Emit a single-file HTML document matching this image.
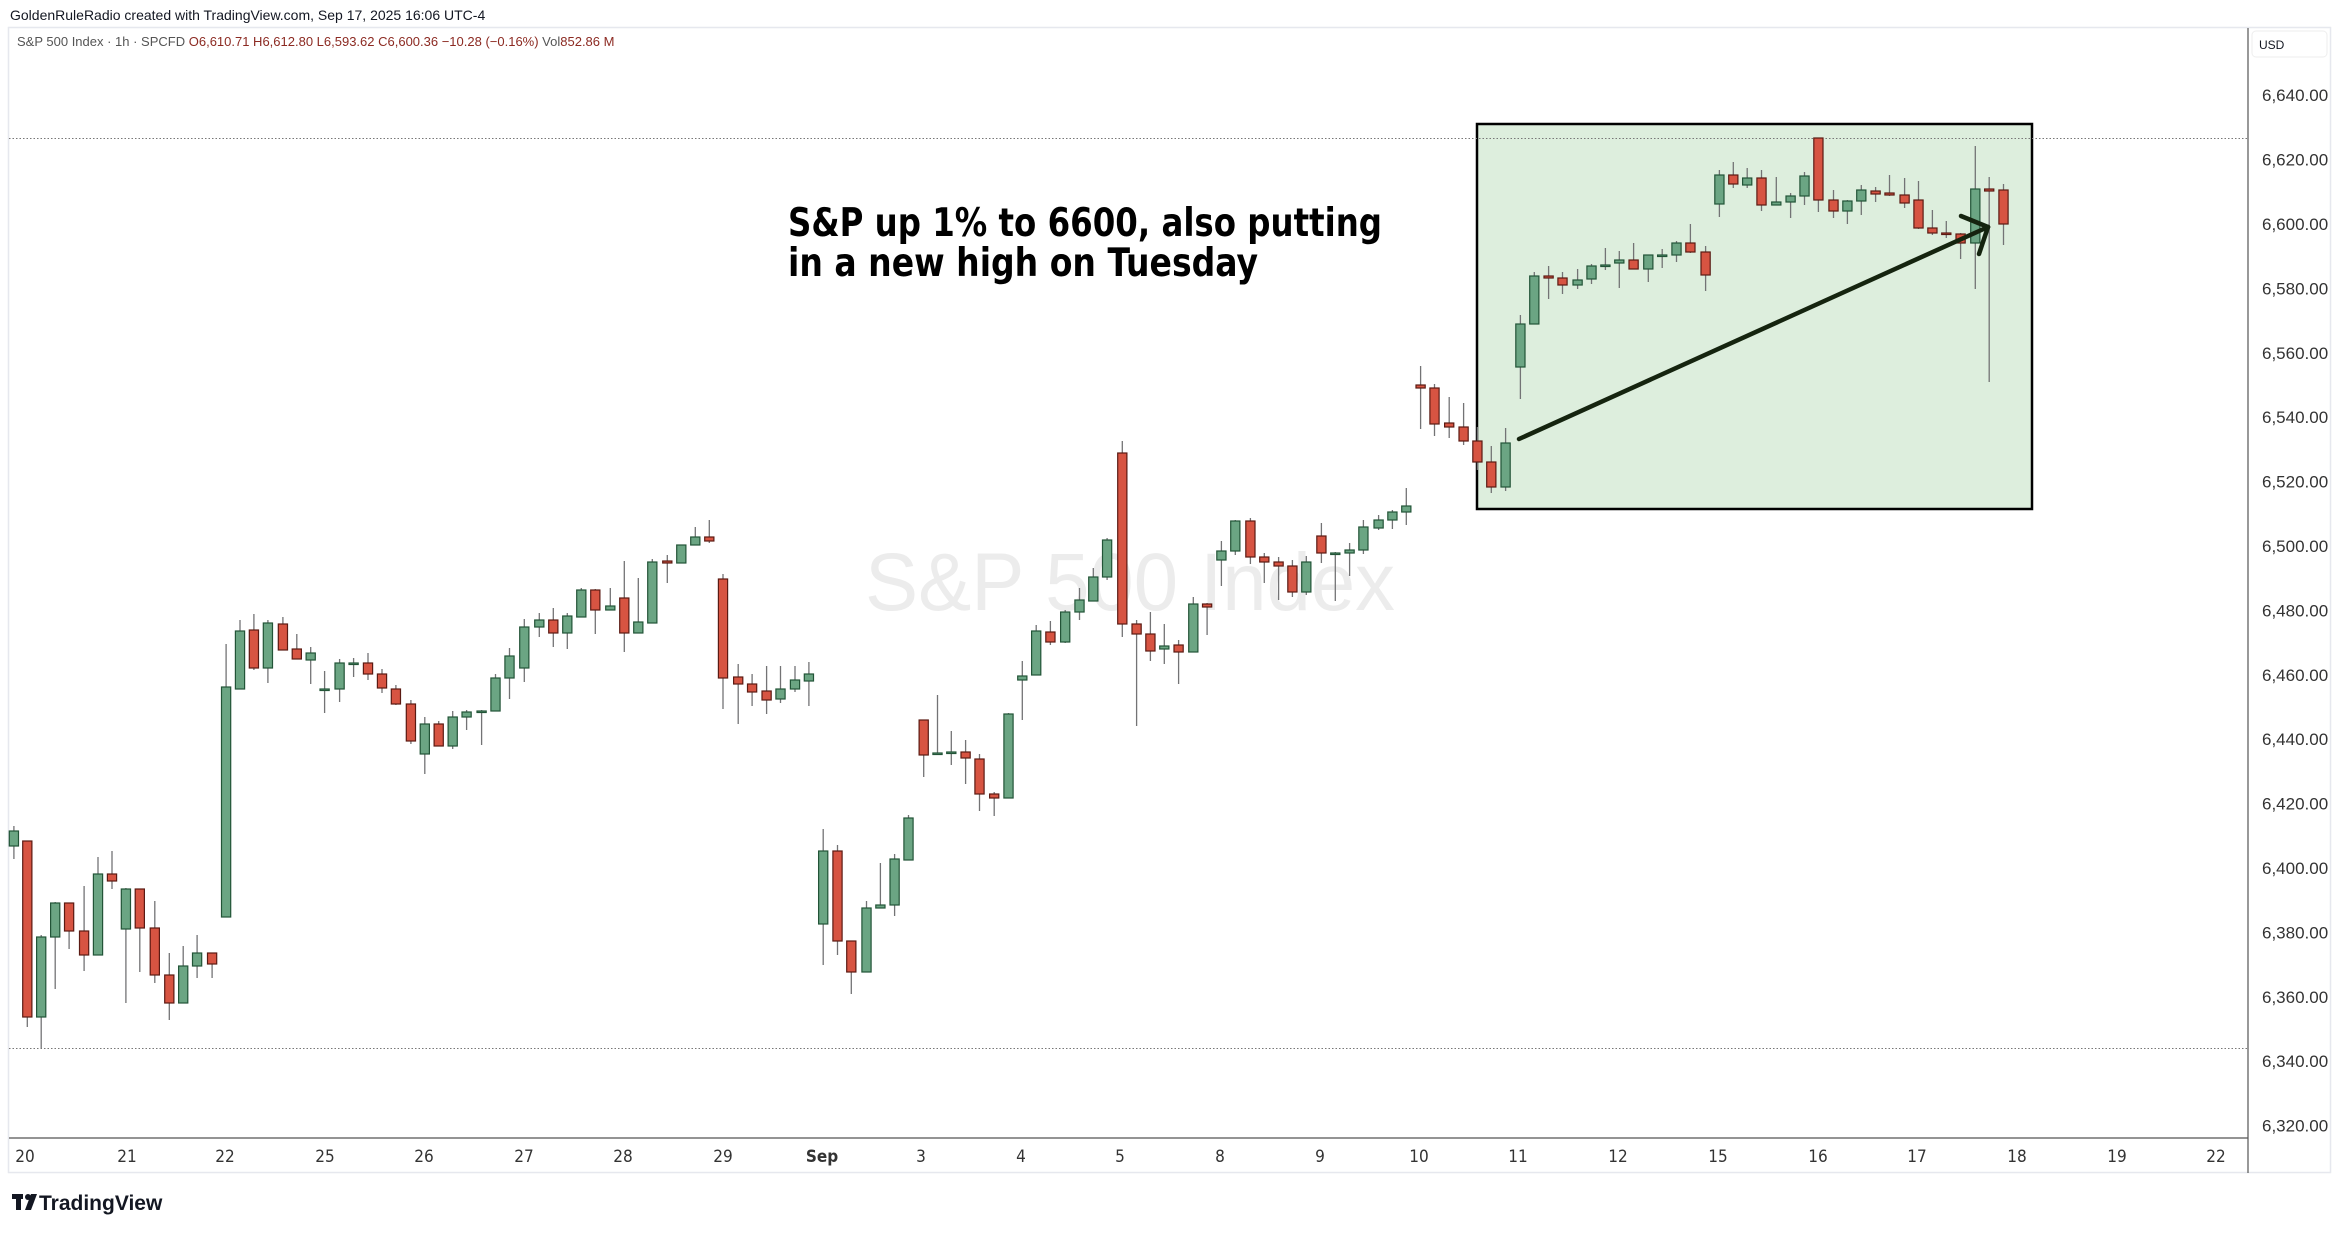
<!DOCTYPE html>
<html><head><meta charset="utf-8"><style>
html,body{margin:0;padding:0;background:#fff;}
svg{display:block;}
</style></head><body>
<svg id="c" width="2341" height="1234" viewBox="0 0 2341 1234" xmlns="http://www.w3.org/2000/svg" font-family="'Liberation Sans', sans-serif">
<rect width="2341" height="1234" fill="#fff"/>
<text x="10" y="20" font-size="14" fill="#131722">GoldenRuleRadio created with TradingView.com, Sep 17, 2025 16:06 UTC-4</text>
<rect x="8.5" y="27.5" width="2322" height="1145" fill="none" stroke="#e6e8ee" stroke-width="1.5"/>
<text x="17" y="46" font-size="13" fill="#555"><tspan>S&amp;P 500 Index · 1h · SPCFD </tspan><tspan fill="#8c2a22"> O6,610.71  H6,612.80  L6,593.62  C6,600.36  −10.28 (−0.16%)</tspan><tspan fill="#555">  Vol</tspan><tspan fill="#8c2a22">852.86 M</tspan></text>
<line x1="2248" y1="28" x2="2248" y2="1173" stroke="#555" stroke-width="1.2"/>
<line x1="9" y1="1138" x2="2248" y2="1138" stroke="#555" stroke-width="1.2"/>
<rect x="2252" y="31" width="75" height="26" rx="4" fill="#fff" stroke="#eee"/>
<text x="2259" y="49" font-size="12" fill="#131722">USD</text>
<g font-size="17" fill="#333" id="yl"></g>
<g font-size="17" fill="#333" font-family="'DejaVu Sans Condensed','Liberation Sans Narrow','Liberation Sans',sans-serif">
<text x="25" y="1162" text-anchor="middle">20</text>
<text x="127" y="1162" text-anchor="middle">21</text>
<text x="225" y="1162" text-anchor="middle">22</text>
<text x="325" y="1162" text-anchor="middle">25</text>
<text x="424" y="1162" text-anchor="middle">26</text>
<text x="524" y="1162" text-anchor="middle">27</text>
<text x="623" y="1162" text-anchor="middle">28</text>
<text x="723" y="1162" text-anchor="middle">29</text>
<text x="822" y="1162" text-anchor="middle" font-weight="bold">Sep</text>
<text x="921" y="1162" text-anchor="middle">3</text>
<text x="1021" y="1162" text-anchor="middle">4</text>
<text x="1120" y="1162" text-anchor="middle">5</text>
<text x="1220" y="1162" text-anchor="middle">8</text>
<text x="1320" y="1162" text-anchor="middle">9</text>
<text x="1419" y="1162" text-anchor="middle">10</text>
<text x="1518" y="1162" text-anchor="middle">11</text>
<text x="1618" y="1162" text-anchor="middle">12</text>
<text x="1718" y="1162" text-anchor="middle">15</text>
<text x="1818" y="1162" text-anchor="middle">16</text>
<text x="1917" y="1162" text-anchor="middle">17</text>
<text x="2017" y="1162" text-anchor="middle">18</text>
<text x="2117" y="1162" text-anchor="middle">19</text>
<text x="2216" y="1162" text-anchor="middle">22</text>
</g>
<text x="865" y="610" font-size="82" fill="#ececec" textLength="530" lengthAdjust="spacingAndGlyphs">S&amp;P 500 Index</text>
<rect x="1477" y="124" width="555" height="385" fill="#ddeedd" stroke="#000" stroke-width="2.5"/>
<line x1="9" y1="138.5" x2="2248" y2="138.5" stroke="#777" stroke-width="1" stroke-dasharray="1.5,2"/>
<line x1="9" y1="1048.5" x2="2248" y2="1048.5" stroke="#777" stroke-width="1" stroke-dasharray="1.5,2"/>
<g id="cd"></g>
<g stroke="#15240f" stroke-width="4.5" stroke-linecap="round" fill="none">
<line x1="1519" y1="439" x2="1988" y2="227"/>
<line x1="1961" y1="216" x2="1988" y2="227"/>
<line x1="1979" y1="254" x2="1988" y2="227"/>
</g>
<g font-family="'DejaVu Sans Condensed','DejaVu Sans','Liberation Sans',sans-serif" font-weight="bold" font-size="39" fill="#000">
<text x="788" y="236" textLength="594" lengthAdjust="spacingAndGlyphs">S&amp;P up 1% to 6600, also putting</text>
<text x="788" y="276" textLength="470" lengthAdjust="spacingAndGlyphs">in a new high on Tuesday</text>
</g>
<g fill="#131722">
<rect x="12" y="1194" width="11" height="5"/><rect x="16" y="1194" width="5" height="16"/>
<circle cx="28" cy="1197" r="3"/><polygon points="31,1194 37,1194 31,1210 25,1210"/>
</g>
<text x="39" y="1210" font-size="21" font-weight="bold" fill="#131722">TradingView</text>
</svg>
<script>
var NS="http://www.w3.org/2000/svg";
var yl=document.getElementById("yl");
for(var p=6640;p>=6320;p-=20){var y=224+(6600-p)/20*64.4;var t=document.createElementNS(NS,"text");t.setAttribute("x","2262");t.setAttribute("y",(y+6).toFixed(1));t.textContent=p.toLocaleString("en-US")+".00";yl.appendChild(t);}
var D=[
[13.9,826,831,846,859,1],[27.3,841,841,1017,1027,0],[41.2,935,937,1017,1048,1],[55.2,902,903,937,989,1],[69.1,903,903,931,949,0],
[84.1,886,931,955,971,0],[98,857,874,955,955,1],[112,851,874,881,889,0],[125.9,888,889,929,1003,1],[139.8,889,889,928,972,0],
[154.8,901,928,975,983,0],[169.3,953,975,1003,1020,0],[183.2,946,966,1003,1003,1],[197.1,935,953,966,978,1],[212.1,953,953,964,978,0],
[226.1,644,687,917,917,1],[240,620,631,689,689,1],[253.9,614,630,668,670,0],[267.9,620,623,668,683,1],[282.9,617,624,650,650,0],
[296.8,634,649,659,659,0],[310.7,647,653,660,684,1],[324.6,671,689,690,713,1],[339.6,659,663,689,702,1],[353.6,658,663,664,677,1],
[368,653,663,674,680,0],[382,669,674,688,693,0],[395.9,685,689,704,705,0],[410.9,700,704,741,744,0],[424.8,717,724,754,774,1],
[438.7,721,724,746,746,0],[452.7,711,717,746,749,1],[466.6,710,712,717,730,1],[481.6,710,711,712,745,1],[495.5,674,678,711,711,1],
[509.5,648,656,678,699,1],[524.3,619,627,668,682,1],[539.3,613,620,627,637,1],[553.3,608,620,633,647,0],[567.3,613,616,633,649,1],
[581.3,588,590,617,617,1],[595.3,589,590,610,634,0],[610.3,588,606,610,610,1],[624.3,561,598,633,652,0],[638.3,578,622,633,633,1],
[652.3,559,562,623,623,1],[667.3,555,561,563,583,0],[681.3,545,545,563,563,1],[695.3,527,537,545,545,1],[709.3,520,537,541,543,0],
[723,574,579,678,709,0],[738.2,664,677,684,724,0],[752.1,674,684,692,706,0],[766.6,666,691,700,714,0],[780.5,666,689,699,703,1],
[795,666,680,689,692,1],[808.9,662,674,681,706,1],
[823.2,829,851,924,965,1],[837.5,845,851,941,955,0],[851.3,941,941,972,994,0],[866.5,901,908,972,972,1],[880.4,863,905,908,908,1],
[894.6,854,859,905,916,1],[908.5,815,818,860,860,1],[923.7,720,720,755,777,0],[937.5,695,753,754,754,1],[951.3,731,752,753,765,1],
[965.6,740,752,758,784,0],[979.5,754,759,794,811,0],[994.2,792,794,798,816,0],[1008.5,713,714,798,798,1],[1022.3,661,676,680,720,1],
[1036.2,625,631,675,675,1],[1050.4,621,632,642,645,0],[1065.2,610,612,642,643,1],[1079.5,588,600,612,620,1],[1093.3,568,577,601,601,1],
[1107.1,538,540,577,580,1],[1122.3,441,453,624,637,0],[1136.6,620,624,634,726,0],[1150.4,612,634,651,661,0],[1164.3,624,646,649,664,1],
[1178.6,640,645,652,684,0],[1193.3,597,604,652,652,1],[1207.1,603,604,607,635,0],[1221.4,541,551,560,586,1],[1235.3,520,521,551,555,1],
[1250.4,518,521,557,564,0],[1264.3,553,557,562,583,0],[1278.6,557,562,566,600,0],[1292.4,560,566,592,597,0],[1306.3,556,562,592,595,1],
[1321.4,523,536,553,563,0],[1335.3,552,553,554,601,1],[1349.6,543,550,553,576,1],[1363.4,520,527,550,554,1],[1378.6,515,520,528,530,1],
[1392.4,510,512,520,529,1],[1406.3,488,506,512,525,1],
[1420.6,366,385,388,429,0],[1434.5,384,388,424,436,0],[1449.2,397,423,427,438,0],[1463.6,403,427,441,445,0],[1477.4,427,441,462,470,0],
[1491.3,446,462,487,493,0],[1505.6,428,443,487,491,1],[1520.4,315,324,367,399,1],[1534.3,272,276,324,324,1],[1548.6,266,276,278,299,0],
[1562.5,272,278,285,294,0],[1577.6,269,280,285,289,1],[1591.5,264,266,279,284,1],[1605.4,248,265,266,270,1],[1619.3,251,260,263,288,1],
[1633.6,243,260,269,269,0],[1648.3,255,255,269,282,1],[1662.2,249,255,256,268,1],[1676.5,241,243,255,262,1],[1690.4,224,243,252,253,0],
[1705.6,246,252,275,291,0],[1719.4,170,175,204,217,1],[1733.3,162,175,184,188,0],[1747.2,168,178,185,188,1],[1761.5,170,178,205,211,0],
[1776.3,177,202,205,205,1],[1790.6,193,196,202,218,1],[1804.5,172,176,196,205,1],[1818.4,138,138,200,212,0],[1833.5,190,200,211,218,0],
[1847.4,200,201,211,224,1],[1861.3,185,190,201,215,1],[1875.6,187,191,194,202,0],[1889.5,175,193,195,196,0],[1904.6,178,195,203,208,0],
[1918.5,181,200,228,229,0],[1932.4,210,228,233,235,0],[1946.3,221,233,234,238,0],[1960.6,233,234,243,259,0],[1975.3,146,189,243,289,1],
[1989.2,177,189,191,382,0],[2003.5,184,190,224,245,0]
];
var g=document.getElementById("cd"),h="";
D.forEach(function(c){
 var x=c[0],up=c[5];
 h+='<line x1="'+x+'" y1="'+c[1]+'" x2="'+x+'" y2="'+c[4]+'" stroke="#737375" stroke-width="1.3"/>';
 var bh=Math.max(c[3]-c[2],1.5);
 h+='<rect x="'+(x-4.6)+'" y="'+c[2]+'" width="9.2" height="'+bh+'" fill="'+(up?'#6ba583':'#d75442')+'" stroke="'+(up?'#225437':'#5b1a13')+'" stroke-width="1.2"/>';
});
g.innerHTML=h;
</script>
</body></html>
